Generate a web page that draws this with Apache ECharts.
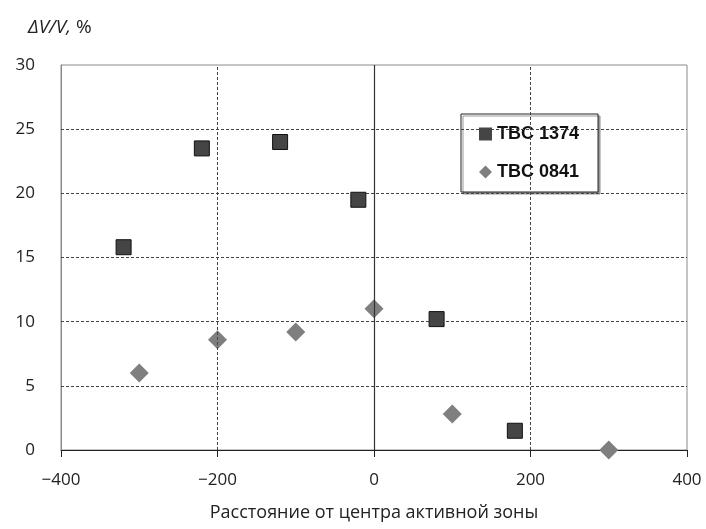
<!DOCTYPE html>
<html>
<head>
<meta charset="utf-8">
<script src="https://cdn.jsdelivr.net/npm/echarts@6/dist/echarts.min.js"></script>
<style>
  html, body { margin: 0; padding: 0; background: #fff; }
  #chart { width: 706px; height: 529px; }
</style>
</head>
<body>
<div id="chart"></div>
<script>
// Volume change vs. distance from the core centre, two fuel assemblies
const seriesNames = ['TBC 1374', 'TBC 0841'];
const tbc1374X = [-320, -220, -120, -20, 80, 180];
const tbc1374Y = [15.8, 23.5, 24.0, 19.5, 10.2, 1.5];
const tbc0841X = [-300, -200, -100, 0, 100, 300];
const tbc0841Y = [6.0, 8.6, 9.2, 11.0, 2.8, 0];

const xTicks = [-400, -200, 0, 200, 400];
const yTicks = [0, 5, 10, 15, 20, 25, 30];
const xTitle = 'Расстояние от центра активной зоны';
const yTitle = 'ΔV/V, %';

const pairs = (xs, ys) => xs.map((x, i) => [x, ys[i]]);

const xMin = xTicks[0], xMax = xTicks[xTicks.length - 1];
const yMin = yTicks[0], yMax = yTicks[yTicks.length - 1];

// inner dashed grid lines (borders are drawn by the grid itself)
const innerX = xTicks.filter(v => v !== xMin && v !== xMax && v !== 0);
const innerY = yTicks.filter(v => v !== yMin && v !== yMax);
const dashed = { type: [3, 2], color: '#444', width: 1 };

const labelFont = { fontFamily: 'Open Sans', fontSize: 17, color: '#222' };

const chart = echarts.init(document.getElementById('chart'));
chart.setOption({
  animation: false,
  backgroundColor: '#fff',
  title: {
    text: '{i|' + yTitle.split(' ')[0] + '} {n|' + yTitle.split(' ')[1] + '}',
    left: 23, top: 13,
    textStyle: {
      fontWeight: 'normal',
      rich: {
        i: { fontFamily: 'Open Sans', fontStyle: 'italic', fontWeight: 'normal', fontSize: 19, color: '#222' },
        n: { fontFamily: 'Open Sans', fontWeight: 'normal', fontSize: 19, color: '#222' }
      }
    }
  },
  grid: {
    left: 61, right: 19, top: 65, bottom: 79,
    show: true, borderColor: '#8a8a8a', borderWidth: 1, backgroundColor: '#fff'
  },
  legend: {
    orient: 'vertical',
    left: 461, top: 114,
    padding: [11, 19, 11, 18],
    itemGap: 20,
    itemWidth: 13, itemHeight: 13,
    backgroundColor: '#fff',
    borderColor: '#222', borderWidth: 1,
    shadowColor: '#999', shadowOffsetX: 2, shadowOffsetY: 2, shadowBlur: 0,
    textStyle: { fontFamily: 'Liberation Sans', fontWeight: 'bold', fontSize: 18, color: '#111' },
    data: [
      { name: seriesNames[0], icon: 'rect', itemStyle: { borderWidth: 0 } },
      { name: seriesNames[1], icon: 'diamond' }
    ]
  },
  xAxis: {
    type: 'value', min: xMin, max: xMax, interval: 200,
    name: xTitle, nameLocation: 'middle', nameGap: 54,
    nameTextStyle: { fontFamily: 'Open Sans', fontSize: 18, color: '#222' },
    axisLine: { onZero: false, lineStyle: { color: '#222', width: 1 } },
    axisTick: { show: true, inside: false, length: 7, lineStyle: { color: '#222' } },
    axisLabel: Object.assign({
      margin: 22,
      formatter: v => String(v).replace('-', '\u2212')
    }, labelFont),
    splitLine: { show: false }
  },
  yAxis: {
    type: 'value', min: yMin, max: yMax, interval: 5,
    axisLine: { show: true, onZero: false, lineStyle: { color: '#8a8a8a' } },
    axisTick: { show: false },
    axisLabel: Object.assign({ margin: 26 }, labelFont),
    splitLine: { show: false }
  },
  series: [
    {
      // grid lines and the zero-distance line
      type: 'scatter', data: [], silent: true, z: 1,
      markLine: {
        silent: true, symbol: 'none', animation: false,
        label: { show: false },
        data: [
          ...innerY.map(v => ({ yAxis: v, lineStyle: dashed })),
          ...innerX.map(v => ({ xAxis: v, lineStyle: dashed })),
          { xAxis: 0, lineStyle: { type: 'solid', color: '#333', width: 1.2 } }
        ]
      }
    },
    {
      name: seriesNames[0], type: 'scatter', z: 3,
      symbol: 'rect', symbolSize: 15,
      itemStyle: { color: '#454545', borderColor: '#111', borderWidth: 1, opacity: 1 },
      data: pairs(tbc1374X, tbc1374Y)
    },
    {
      name: seriesNames[1], type: 'scatter', z: 3,
      symbol: 'diamond', symbolSize: 19,
      itemStyle: { color: '#7f7f7f', opacity: 1 },
      data: pairs(tbc0841X, tbc0841Y)
    }
  ]
});
</script>
</body>
</html>
